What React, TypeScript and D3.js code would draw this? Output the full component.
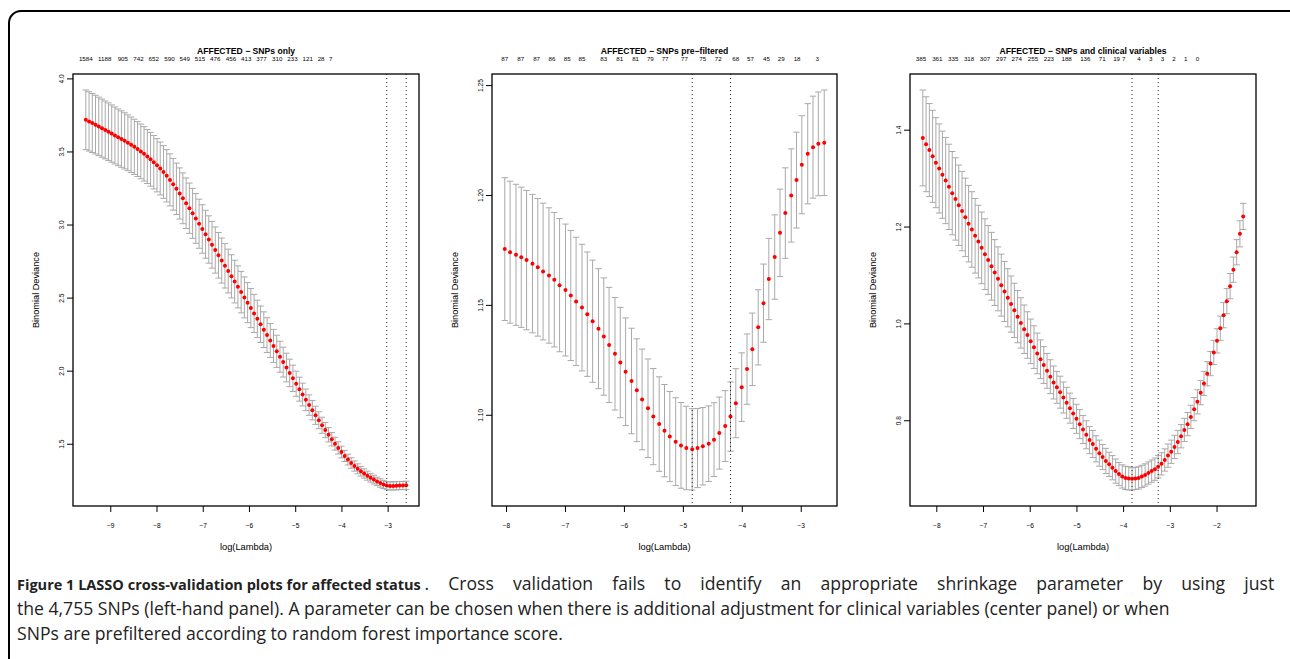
import React, { useLayoutEffect, useRef, useState } from "react";
import * as d3 from "d3";

// ---- left panel: AFFECTED - SNPs only ----
const snpsLogLambda = [
  -9.54, -9.47, -9.40, -9.33, -9.26, -9.19, -9.12, -9.05, -8.98, -8.91,
  -8.84, -8.77, -8.70, -8.63, -8.56, -8.49, -8.42, -8.35, -8.28, -8.21,
  -8.14, -8.07, -8.00, -7.93, -7.86, -7.79, -7.72, -7.65, -7.58, -7.51,
  -7.44, -7.37, -7.30, -7.23, -7.16, -7.09, -7.02, -6.95, -6.88, -6.81,
  -6.74, -6.67, -6.60, -6.53, -6.46, -6.39, -6.32, -6.25, -6.18, -6.11,
  -6.04, -5.97, -5.90, -5.83, -5.76, -5.69, -5.62, -5.55, -5.48, -5.41,
  -5.34, -5.27, -5.20, -5.13, -5.06, -4.99, -4.92, -4.85, -4.78, -4.71,
  -4.64, -4.57, -4.50, -4.43, -4.36, -4.29, -4.22, -4.15, -4.08, -4.01,
  -3.94, -3.87, -3.80, -3.73, -3.66, -3.59, -3.52, -3.45, -3.38, -3.31,
  -3.24, -3.17, -3.10, -3.03, -2.96, -2.89, -2.82, -2.75, -2.68, -2.61,
];
const snpsDeviance = [
  3.720, 3.709, 3.698, 3.687, 3.675, 3.663, 3.651, 3.639, 3.626, 3.613,
  3.600, 3.588, 3.576, 3.563, 3.549, 3.535, 3.520, 3.504, 3.487, 3.469,
  3.450, 3.430, 3.409, 3.387, 3.363, 3.337, 3.309, 3.279, 3.248, 3.216,
  3.183, 3.149, 3.115, 3.080, 3.045, 3.009, 2.973, 2.937, 2.901, 2.865,
  2.829, 2.793, 2.757, 2.721, 2.685, 2.649, 2.613, 2.577, 2.541, 2.505,
  2.469, 2.432, 2.395, 2.358, 2.321, 2.284, 2.247, 2.210, 2.173, 2.136,
  2.099, 2.062, 2.025, 1.988, 1.951, 1.914, 1.877, 1.840, 1.804, 1.768,
  1.733, 1.698, 1.664, 1.630, 1.597, 1.565, 1.534, 1.504, 1.475, 1.447,
  1.420, 1.395, 1.372, 1.351, 1.332, 1.315, 1.300, 1.285, 1.271, 1.258,
  1.246, 1.235, 1.225, 1.217, 1.215, 1.215, 1.216, 1.217, 1.218, 1.219,
];
const snpsSd = [
  0.204, 0.203, 0.202, 0.201, 0.200, 0.199, 0.198, 0.197, 0.196, 0.195,
  0.194, 0.193, 0.192, 0.191, 0.190, 0.189, 0.188, 0.187, 0.186, 0.185,
  0.184, 0.183, 0.182, 0.181, 0.180, 0.179, 0.178, 0.177, 0.176, 0.175,
  0.174, 0.173, 0.172, 0.171, 0.170, 0.168, 0.166, 0.164, 0.162, 0.160,
  0.158, 0.156, 0.154, 0.152, 0.150, 0.148, 0.146, 0.144, 0.142, 0.140,
  0.137, 0.134, 0.131, 0.128, 0.125, 0.122, 0.119, 0.116, 0.113, 0.110,
  0.106, 0.102, 0.098, 0.094, 0.090, 0.086, 0.082, 0.078, 0.074, 0.070,
  0.066, 0.062, 0.058, 0.055, 0.052, 0.049, 0.046, 0.044, 0.042, 0.040,
  0.038, 0.037, 0.036, 0.035, 0.034, 0.033, 0.032, 0.031, 0.030, 0.030,
  0.029, 0.029, 0.028, 0.028, 0.028, 0.028, 0.028, 0.028, 0.028, 0.028,
];
const snpsNzAt = [
  -9.54, -9.13, -8.74, -8.40, -8.07, -7.73, -7.40, -7.07, -6.74, -6.40,
  -6.07, -5.74, -5.40, -5.07, -4.74, -4.45, -4.24,
];
const snpsNz = [
  "1584", "1188", "905", "742", "652", "590", "549", "515", "476", "456",
  "413", "377", "310", "233", "121", "28", "7",
];
const snpsLambdaMin = -3.03;
const snpsLambda1se = -2.61;
const snpsXTicks = [-9, -8, -7, -6, -5, -4, -3];
const snpsYTicks = [1.5, 2.0, 2.5, 3.0, 3.5, 4.0];

// ---- center panel: AFFECTED - SNPs pre-filtered ----
const preLogLambda = [
  -8.03, -7.94, -7.84, -7.75, -7.66, -7.56, -7.47, -7.38, -7.28, -7.19,
  -7.10, -7.00, -6.91, -6.82, -6.72, -6.63, -6.54, -6.44, -6.35, -6.26,
  -6.16, -6.07, -5.98, -5.88, -5.79, -5.70, -5.60, -5.51, -5.41, -5.32,
  -5.23, -5.13, -5.04, -4.95, -4.85, -4.76, -4.67, -4.57, -4.48, -4.39,
  -4.29, -4.20, -4.11, -4.01, -3.92, -3.83, -3.73, -3.64, -3.55, -3.45,
  -3.36, -3.27, -3.17, -3.08, -2.99, -2.89, -2.80, -2.71, -2.61,
];
const preDeviance = [
  1.1756, 1.1742, 1.1730, 1.1719, 1.1706, 1.1690, 1.1673, 1.1654, 1.1636, 1.1617,
  1.1592, 1.1570, 1.1545, 1.1518, 1.1490, 1.1460, 1.1428, 1.1394, 1.1358, 1.1320,
  1.1280, 1.1240, 1.1198, 1.1156, 1.1114, 1.1072, 1.1032, 1.0994, 1.0960, 1.0930,
  1.0903, 1.0880, 1.0863, 1.0851, 1.0845, 1.0851, 1.0859, 1.0871, 1.0889, 1.0919,
  1.0951, 1.0994, 1.1055, 1.1128, 1.1210, 1.1300, 1.1400, 1.1510, 1.1620, 1.1720,
  1.1830, 1.1920, 1.2000, 1.2070, 1.2140, 1.2190, 1.2220, 1.2235, 1.2240,
];
const preSd = [
  0.0325, 0.0323, 0.0321, 0.0319, 0.0317, 0.0315, 0.0313, 0.0311, 0.0308, 0.0306,
  0.0303, 0.0300, 0.0296, 0.0292, 0.0288, 0.0283, 0.0278, 0.0273, 0.0267, 0.0262,
  0.0256, 0.0251, 0.0245, 0.0240, 0.0234, 0.0229, 0.0224, 0.0219, 0.0215, 0.0210,
  0.0205, 0.0200, 0.0195, 0.0190, 0.0185, 0.0180, 0.0176, 0.0172, 0.0168, 0.0164,
  0.0161, 0.0158, 0.0157, 0.0156, 0.0160, 0.0165, 0.0171, 0.0178, 0.0185, 0.0192,
  0.0199, 0.0206, 0.0212, 0.0218, 0.0223, 0.0228, 0.0232, 0.0236, 0.0240,
];
const preNzAt = [
  -8.03, -7.76, -7.49, -7.23, -6.97, -6.72, -6.35, -6.08, -5.81, -5.56,
  -5.31, -4.98, -4.67, -4.41, -4.11, -3.86, -3.59, -3.34, -3.07, -2.73,
];
const preNz = [
  "87", "87", "87", "86", "85", "85", "83", "81", "81", "79",
  "77", "77", "75", "72", "68", "57", "45", "29", "18", "3",
];
const preLambdaMin = -4.85;
const preLambda1se = -4.2;
const preXTicks = [-8, -7, -6, -5, -4, -3];
const preYTicks = [1.1, 1.15, 1.2, 1.25];

// ---- right panel: AFFECTED - SNPs and clinical variables ----
const clinLogLambda = [
  -8.30, -8.23, -8.16, -8.09, -8.02, -7.95, -7.88, -7.81, -7.74, -7.67,
  -7.60, -7.53, -7.46, -7.39, -7.32, -7.25, -7.18, -7.11, -7.04, -6.97,
  -6.90, -6.83, -6.76, -6.69, -6.62, -6.55, -6.48, -6.41, -6.34, -6.27,
  -6.20, -6.13, -6.06, -5.99, -5.92, -5.85, -5.78, -5.71, -5.64, -5.57,
  -5.50, -5.43, -5.36, -5.29, -5.22, -5.15, -5.08, -5.01, -4.94, -4.87,
  -4.80, -4.73, -4.66, -4.59, -4.52, -4.45, -4.38, -4.31, -4.24, -4.17,
  -4.10, -4.03, -3.96, -3.89, -3.82, -3.75, -3.68, -3.61, -3.54, -3.47,
  -3.40, -3.33, -3.26, -3.19, -3.12, -3.05, -2.98, -2.91, -2.84, -2.77,
  -2.70, -2.63, -2.56, -2.49, -2.42, -2.35, -2.28, -2.21, -2.14, -2.07,
  -2.00, -1.93, -1.86, -1.79, -1.72, -1.65, -1.58, -1.51, -1.44,
];
const clinDeviance = [
  1.384, 1.371, 1.359, 1.346, 1.333, 1.321, 1.308, 1.296, 1.283, 1.270,
  1.258, 1.245, 1.233, 1.220, 1.207, 1.195, 1.182, 1.170, 1.157, 1.144,
  1.132, 1.119, 1.106, 1.093, 1.080, 1.067, 1.054, 1.041, 1.028, 1.015,
  1.002, 0.989, 0.977, 0.964, 0.952, 0.939, 0.927, 0.915, 0.903, 0.891,
  0.879, 0.869, 0.859, 0.848, 0.837, 0.826, 0.815, 0.804, 0.793, 0.782,
  0.771, 0.760, 0.752, 0.742, 0.733, 0.725, 0.717, 0.710, 0.703, 0.696,
  0.690, 0.685, 0.682, 0.681, 0.680, 0.681, 0.682, 0.685, 0.688, 0.692,
  0.696, 0.700, 0.705, 0.711, 0.719, 0.728, 0.736, 0.746, 0.756, 0.768,
  0.781, 0.793, 0.808, 0.824, 0.839, 0.858, 0.877, 0.897, 0.918, 0.941,
  0.965, 0.991, 1.018, 1.047, 1.078, 1.112, 1.148, 1.186, 1.222,
];
const clinSd = [
  0.099, 0.098, 0.096, 0.095, 0.093, 0.092, 0.090, 0.089, 0.088, 0.086,
  0.085, 0.083, 0.082, 0.081, 0.079, 0.078, 0.077, 0.075, 0.074, 0.073,
  0.071, 0.070, 0.068, 0.066, 0.064, 0.062, 0.060, 0.058, 0.056, 0.054,
  0.052, 0.050, 0.048, 0.046, 0.044, 0.042, 0.040, 0.038, 0.036, 0.035,
  0.034, 0.033, 0.033, 0.032, 0.032, 0.031, 0.031, 0.030, 0.030, 0.029,
  0.029, 0.028, 0.028, 0.027, 0.027, 0.026, 0.026, 0.025, 0.025, 0.025,
  0.024, 0.024, 0.024, 0.024, 0.023, 0.023, 0.023, 0.023, 0.023, 0.023,
  0.023, 0.023, 0.023, 0.023, 0.023, 0.024, 0.024, 0.024, 0.024, 0.024,
  0.024, 0.024, 0.024, 0.024, 0.025, 0.025, 0.025, 0.025, 0.025, 0.025,
  0.025, 0.025, 0.026, 0.026, 0.026, 0.026, 0.026, 0.027, 0.027,
];
const clinNzAt = [
  -8.34, -7.99, -7.65, -7.31, -6.97, -6.62, -6.29, -5.94, -5.60, -5.22,
  -4.82, -4.46, -4.15, -4.00, -3.67, -3.42, -3.17, -2.92, -2.67, -2.42,
];
const clinNz = [
  "385", "361", "335", "318", "307", "297", "274", "255", "223", "188",
  "136", "71", "19", "7", "4", "3", "3", "2", "1", "0",
];
const clinLambdaMin = -3.82;
const clinLambda1se = -3.26;
const clinXTicks = [-8, -7, -6, -5, -4, -3, -2];
const clinYTicks = [0.8, 1.0, 1.2, 1.4];

const panels = [
  {
    title: "AFFECTED \u2212 SNPs only",
    x: snpsLogLambda, y: snpsDeviance, sd: snpsSd,
    nzAt: snpsNzAt, nz: snpsNz, lmin: snpsLambdaMin, l1se: snpsLambda1se,
    xTicks: snpsXTicks, yTicks: snpsYTicks, yFmt: d3.format(".1f"),
    left: 73, right: 419,
  },
  {
    title: "AFFECTED \u2212 SNPs pre\u2212filtered",
    x: preLogLambda, y: preDeviance, sd: preSd,
    nzAt: preNzAt, nz: preNz, lmin: preLambdaMin, l1se: preLambda1se,
    xTicks: preXTicks, yTicks: preYTicks, yFmt: d3.format(".2f"),
    left: 492, right: 837,
  },
  {
    title: "AFFECTED \u2212 SNPs and clinical variables",
    x: clinLogLambda, y: clinDeviance, sd: clinSd,
    nzAt: clinNzAt, nz: clinNz, lmin: clinLambdaMin, l1se: clinLambda1se,
    xTicks: clinXTicks, yTicks: clinYTicks, yFmt: d3.format(".1f"),
    left: 910, right: 1256,
  },
];

const TOP = 74;
const BOTTOM = 506;
const FONT = "'Liberation Sans', Arial, Helvetica, sans-serif";
const minus = (s: string) => s.replace("-", "\u2212");

function CvPanel({ p }: { p: any }) {
  const [xa, xb] = d3.extent(p.x as number[]) as [number, number];
  const xr = xb - xa;
  const x = d3.scaleLinear().domain([xa - 0.04 * xr, xb + 0.04 * xr]).range([p.left, p.right]);
  const lo = p.y.map((v: number, i: number) => v - p.sd[i]);
  const hi = p.y.map((v: number, i: number) => v + p.sd[i]);
  const ya = d3.min(lo) as number;
  const yb = d3.max(hi) as number;
  const yr = yb - ya;
  const y = d3.scaleLinear().domain([ya - 0.04 * yr, yb + 0.04 * yr]).range([BOTTOM, TOP]);
  const barw = xr * 0.01;
  const cx = (p.left + p.right) / 2;
  const cy = (TOP + BOTTOM) / 2;

  return (
    <g fontFamily={FONT}>
      {/* title and number of non-zero coefficients */}
      <text x={cx} y={53.5} textAnchor="middle" fontSize={8.6} fontWeight="bold">
        {p.title}
      </text>
      {p.nz.map((lab: string, i: number) => (
        <text key={i} x={x(p.nzAt[i])} y={60.5} textAnchor="middle" fontSize={6.2}>
          {lab}
        </text>
      ))}

      {/* error bars */}
      <g stroke="darkgrey" strokeWidth={1} fill="none">
        {p.x.map((v: number, i: number) => (
          <g key={i}>
            <line x1={x(v)} x2={x(v)} y1={y(lo[i])} y2={y(hi[i])} />
            <line x1={x(v - barw)} x2={x(v + barw)} y1={y(lo[i])} y2={y(lo[i])} />
            <line x1={x(v - barw)} x2={x(v + barw)} y1={y(hi[i])} y2={y(hi[i])} />
          </g>
        ))}
      </g>
      {/* mean deviance */}
      {p.x.map((v: number, i: number) => (
        <circle key={i} cx={x(v)} cy={y(p.y[i])} r={2} fill="red" />
      ))}
      {/* lambda.min and lambda.1se */}
      {[p.lmin, p.l1se].map((v: number, i: number) => (
        <line key={i} x1={x(v)} x2={x(v)} y1={TOP} y2={BOTTOM}
          stroke="#222" strokeWidth={1} strokeDasharray="1,3" />
      ))}

      <rect x={p.left} y={TOP} width={p.right - p.left} height={BOTTOM - TOP}
        fill="none" stroke="#000" strokeWidth={1.3} />

      {/* x axis */}
      {p.xTicks.map((t: number) => (
        <g key={t}>
          <line x1={x(t)} x2={x(t)} y1={BOTTOM} y2={BOTTOM + 6} stroke="#000" />
          <text x={x(t)} y={528} textAnchor="middle" fontSize={6.6}>{minus(String(t))}</text>
        </g>
      ))}
      <text x={cx} y={549.5} textAnchor="middle" fontSize={9.3}>log(Lambda)</text>

      {/* y axis */}
      {p.yTicks.map((t: number) => (
        <g key={t}>
          <line x1={p.left - 6} x2={p.left} y1={y(t)} y2={y(t)} stroke="#000" />
          <text transform={`translate(${p.left - 9},${y(t)}) rotate(-90)`}
            textAnchor="middle" fontSize={6.6}>{p.yFmt(t)}</text>
        </g>
      ))}
      <text transform={`translate(${p.left - 34.5},${cy}) rotate(-90)`}
        textAnchor="middle" fontSize={9.2}>Binomial Deviance</text>
    </g>
  );
}

const CAP = "'Open Sans', 'Noto Sans', sans-serif";
const captionBold = "Figure 1 LASSO cross-validation plots for affected status";
const captionRest = ". Cross validation fails to identify an appropriate shrinkage parameter by using just";
const captionLine2 = "the 4,755 SNPs (left-hand panel). A parameter can be chosen when there is additional adjustment for clinical variables (center panel) or when";
const captionLine3 = "SNPs are prefiltered according to random forest importance score.";

export default function App() {
  // caption: size the font so the second line fits its width, fit the bold
  // lead-in to its room, then justify the first line by widening word gaps
  const restRef = useRef<SVGTextElement>(null);
  const line2Ref = useRef<SVGTextElement>(null);
  const boldRef = useRef<SVGTextElement>(null);
  const [cap, setCap] = useState({ size: 15.5, bold: 15.5, gap: 0, ready: false });
  useLayoutEffect(() => {
    if (cap.ready || !restRef.current || !line2Ref.current || !boldRef.current) return;
    const k = 1153 / line2Ref.current.getComputedTextLength();
    const size = cap.size * k;
    const wRest = restRef.current.getComputedTextLength() * k;
    const bold = cap.bold * 404 / boldRef.current.getComputedTextLength();
    const gaps = captionRest.split(" ").length - 1;
    setCap({ size, bold: Math.min(bold, size), gap: Math.max(0, (850 - wRest) / gaps), ready: true });
  }, [cap.ready]);

  return (
    <svg width={1290} height={659}
      style={{ position: "absolute", left: 0, top: 0, display: "block", background: "#fff" }}>
      <rect x={9} y={11} width={1292} height={700} rx={12} ry={12}
        fill="none" stroke="#000" strokeWidth={2} />
      {panels.map((p, i) => <CvPanel key={i} p={p} />)}

      <g fontFamily={CAP} fill="#222">
        <text ref={boldRef} x={17} y={590} fontWeight="bold" fontSize={cap.bold}>
          {captionBold}
        </text>
        <text ref={restRef} x={424.5} y={590} fontSize={cap.size}
          style={{ wordSpacing: `${cap.gap}px` }}>
          {captionRest}
        </text>
        <text ref={line2Ref} x={17} y={615} fontSize={cap.size}>
          {captionLine2}
        </text>
        <text x={17} y={640} fontSize={cap.size}>
          {captionLine3}
        </text>
      </g>
    </svg>
  );
}
